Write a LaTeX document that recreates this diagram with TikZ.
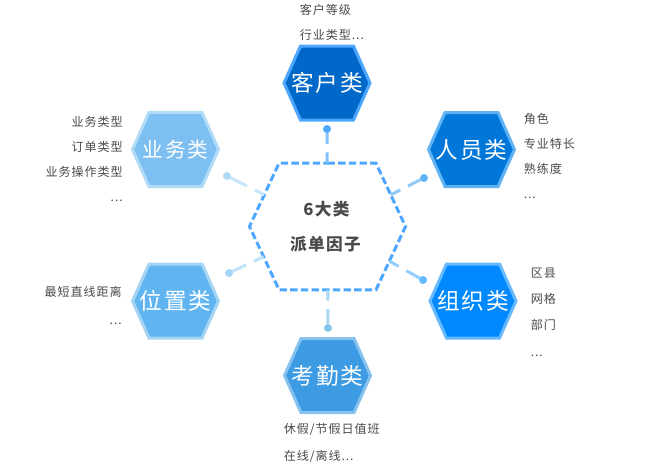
\documentclass[tikz,border=0pt]{standalone}
\usepackage{fontspec}
\setmainfont[LetterSpace=8]{Noto Sans CJK SC}
\definecolor{cust_c}{HTML}{0068C9}
\definecolor{cust_b}{HTML}{4DA6FF}
\definecolor{staff_c}{HTML}{0077D9}
\definecolor{staff_b}{HTML}{5FB3F5}
\definecolor{org_c}{HTML}{0088FF}
\definecolor{org_b}{HTML}{66B8FF}
\definecolor{biz_c}{HTML}{7DBFF0}
\definecolor{biz_b}{HTML}{B0DBF7}
\definecolor{loc_c}{HTML}{60B5F0}
\definecolor{loc_b}{HTML}{A5D5F5}
\definecolor{duty_c}{HTML}{3D9BE3}
\definecolor{duty_b}{HTML}{85C3EE}
\definecolor{hub_c}{HTML}{4DA6FF}
\definecolor{note_c}{HTML}{4A4A4A}
\usepackage{tikz}
\usetikzlibrary{shapes.symbols}

\begin{document}
\begin{tikzpicture}[
			x=0.75pt,
			y=-0.75pt,
			hexa/.style = {signal, signal to=east and west, signal pointer angle=132,
				minimum width=64.5pt, minimum height=55.5pt, inner sep=0pt, outer sep=0pt,
				line width=2.25pt},
			word/.style = {text=white, font=\fontsize{17}{20}\selectfont},
			note/.style = {inner sep=0pt, text=note_c, font=\fontsize{9.05}{18.75}\selectfont},
			knob/.style = {circle, minimum size=6pt, inner sep=0pt, outer sep=0pt},
			link/.style = {line width=2.25pt, dash pattern=on 8pt off 6.5pt on 20pt},
			]
			\useasboundingbox (0,0) rectangle (648,472);
			% centre
			\node[signal, signal to=east and west, signal pointer angle=130,
				minimum width=117pt, minimum height=95pt, inner sep=0pt, outer sep=0pt,
				draw=hub_c, line width=2.25pt, dash pattern=on 5.5pt off 2.5pt,
				align=center, text=note_c, font=\fontsize{12.5}{26.25}\selectfont\bfseries] (hub) at (327.5,226.5) {6大类\hspace*{1.5pt}\\派单因子\hspace*{3pt}};
			% groups
			\node[hexa, label={[word]center:客户类}, fill=cust_c, draw=cust_b] (cust) at (327,83) {};
			\node[hexa, label={[word]center:人员类}, fill=staff_c, draw=staff_b] (staff) at (471.5,149.5) {};
			\node[hexa, label={[word]center:组织类}, fill=org_c, draw=org_b] (org) at (473,301) {};
			\node[hexa, label={[word, font=\fontsize{15.5}{20}\selectfont]center:业务类}, fill=biz_c, draw=biz_b] (biz) at (175.5,149.5) {};
			\node[hexa, label={[word]center:位置类}, fill=loc_c, draw=loc_b] (loc) at (175.5,301) {};
			\node[hexa, label={[word]center:考勤类}, fill=duty_c, draw=duty_b] (duty) at (327.5,375.5) {};
			% knobs
			\node[knob, fill=cust_b] (k1) at (327,129) {};
			\node[knob, fill=staff_b] (k2) at (424,178) {};
			\node[knob, fill=org_b] (k3) at (423,280) {};
			\node[knob, fill=biz_b] (k4) at (227,176) {};
			\node[knob, fill=loc_b] (k5) at (229,273) {};
			\node[knob, fill=duty_b] (k6) at (328,328) {};
			% edges
			\draw[link, cust_b!70!white] (hub) -- (k1);
			\draw[link, staff_b!70!white] (hub) -- (k2);
			\draw[link, org_b!70!white] (hub) -- (k3);
			\draw[link, biz_b!70!white] (hub) -- (k4);
			\draw[link, loc_b!70!white] (hub) -- (k5);
			\draw[link, duty_b!70!white] (hub) -- (k6);
			% notes
			\node[note, anchor=west, align=left] (n1) at (299.5,22.5) {客户等级\\行业类型...};
			\node[note, anchor=west, align=left] (n2) at (523.5,155.5) {角色\\专业特长\\熟练度\\...};
			\node[note, anchor=west, align=left] (n3) at (530.5,312) {区县\\[1.1pt]网格\\[1.1pt]部门\\[1.1pt]...};
			\node[note, anchor=east, align=right] (n4) at (123,158.5) {业务类型\\订单类型\\业务操作类型\\...};
			\node[note, anchor=east, align=right] (n5) at (122,305.5) {最短直线距离\\[2.2pt]...};
			\node[note, anchor=west, align=left] (n6) at (283.5,443) {休假/节假日值班\\[2.2pt]在线/离线...};
		\end{tikzpicture}
\end{document}
